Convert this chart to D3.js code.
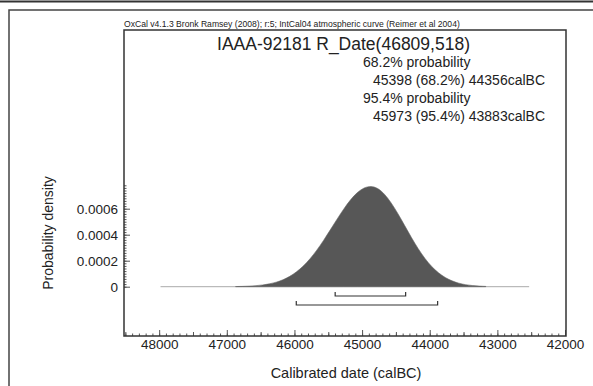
<!DOCTYPE html>
<html lang="en">
<head>
<meta charset="UTF-8">
<title>OxCal R_Date</title>
<script src="https://cdn.jsdelivr.net/npm/d3@7"></script>
<style>
  body { margin: 0; background: #fff; }
  text { font-family: Arial, "Liberation Sans", sans-serif; fill: #222; }
</style>
</head>
<body>
<svg width="593" height="386"></svg>
<script>
// data (calBC, probability density)
var years = [46870, 46770, 46670, 46570, 46470, 46370, 46270, 46170, 46070, 45970,
             45870, 45770, 45670, 45570, 45470, 45370, 45270, 45170, 45070, 44970,
             44870, 44770, 44670, 44570, 44470, 44370, 44270, 44170, 44070, 43970,
             43870, 43770, 43670, 43570, 43470, 43370, 43270, 43170];
var density = [0.0000012, 0.0000024, 0.0000044, 0.0000077, 0.000013, 0.000021, 0.000034, 0.000052, 0.000078, 0.000113,
               0.000157, 0.000213, 0.000280, 0.000355, 0.000437, 0.000520, 0.000600, 0.000671, 0.000727, 0.000763,
               0.000775, 0.000760, 0.000715, 0.000647, 0.000563, 0.000470, 0.000377, 0.000291, 0.000215, 0.000153,
               0.000105, 0.000069, 0.000044, 0.000026, 0.000015, 0.0000086, 0.0000045, 0.0000023];
var baseRange = [47980, 42530];
var range68 = [45398, 44356];
var range95 = [45973, 43883];
var xTicks = [48000, 47000, 46000, 45000, 44000, 43000, 42000];
var yTicks = [0, 0.0002, 0.0004, 0.0006];
var caption = "OxCal v4.1.3 Bronk Ramsey (2008); r:5; IntCal04 atmospheric curve (Reimer et al 2004)";
var title = "IAAA-92181 R_Date(46809,518)";
var lines = ["68.2% probability", "45398 (68.2%) 44356calBC", "95.4% probability", "45973 (95.4%) 43883calBC"];

var svg = d3.select("svg");
var m = {left: 124, right: 566, top: 30, bottom: 336};

// outer frame
svg.append("line").attr("x1", 0).attr("x2", 593).attr("y1", 1.5).attr("y2", 1.5).attr("stroke", "#333").attr("stroke-width", 2);
svg.append("path").attr("d", "M9,386V10H593").attr("fill", "none").attr("stroke", "#444").attr("stroke-width", 1.5);

var x = d3.scaleLinear().domain([48520, 42000]).range([m.left, 565]);
var y = d3.scaleLinear().domain([0, 0.0006]).range([286.7, 208.7]);

// baseline of the distribution
svg.append("line")
  .attr("x1", x(baseRange[0])).attr("x2", x(baseRange[1]))
  .attr("y1", y(0)).attr("y2", y(0))
  .attr("stroke", "#aaa").attr("stroke-width", 1);

// density curve
var pts = years.map(function (d, i) { return [d, density[i]]; });
var area = d3.area().curve(d3.curveBasis)
  .x(function (d) { return x(d[0]); })
  .y0(y(0))
  .y1(function (d) { return y(d[1]); });
svg.append("path").attr("d", area(pts)).attr("fill", "#575757").attr("stroke", "#666").attr("stroke-width", 0.6);

// range brackets
function bracket(r, yy) {
  var x0 = x(r[0]), x1 = x(r[1]);
  svg.append("path")
    .attr("d", "M" + x0 + "," + (yy - 4) + "V" + yy + "H" + x1 + "V" + (yy - 4))
    .attr("fill", "none").attr("stroke", "#333").attr("stroke-width", 1.2);
}
bracket(range68, 296);
bracket(range95, 305);

// x axis (ticks pointing inwards)
var gx = svg.append("g").attr("transform", "translate(0," + m.bottom + ")");
gx.call(d3.axisBottom(x).tickValues(d3.range(42000, 48501, 100)).tickSize(-2.5).tickFormat(""));
gx.select(".domain").remove();
var gx2 = svg.append("g").attr("transform", "translate(0," + m.bottom + ")");
gx2.call(d3.axisBottom(x).tickValues(d3.range(42500, 48501, 1000)).tickSize(-4).tickFormat(""));
gx2.select(".domain").remove();
var gx3 = svg.append("g").attr("transform", "translate(0," + m.bottom + ")");
gx3.call(d3.axisBottom(x).tickValues(xTicks).tickSize(-6).tickPadding(3).tickFormat(d3.format("d")));
gx3.select(".domain").remove();
gx3.selectAll("text").attr("font-size", 13.5).attr("fill", "#222");

// y axis
var gy = svg.append("g").attr("transform", "translate(" + m.left + ",0)");
gy.call(d3.axisLeft(y).tickValues(d3.range(0, 0.00079, 0.00002)).tickSize(-2.5).tickFormat(""));
gy.select(".domain").remove();
var gy2 = svg.append("g").attr("transform", "translate(" + m.left + ",0)");
gy2.call(d3.axisLeft(y).tickValues(yTicks).tickSize(-6).tickPadding(6).tickFormat(function (d) { return d === 0 ? "0" : d3.format(".4f")(d); }));
gy2.select(".domain").remove();
gy2.selectAll("text").attr("font-size", 13.5).attr("fill", "#222");
svg.selectAll(".tick line").attr("stroke", "#555");

// plot frame
svg.append("rect").attr("x", m.left).attr("y", m.top).attr("width", m.right - m.left).attr("height", m.bottom - m.top)
  .attr("fill", "none").attr("stroke", "#333").attr("stroke-width", 1.5);

// texts
svg.append("text").attr("x", m.left).attr("y", 27).attr("font-size", 8.6).text(caption);
svg.append("text").attr("x", 343.5).attr("y", 50).attr("text-anchor", "middle").attr("font-size", 17.5).text(title);
var lx = [363, 373, 363, 373], ly = [67, 85, 103, 121];
lines.forEach(function (t, i) {
  svg.append("text").attr("x", lx[i]).attr("y", ly[i]).attr("font-size", 14).text(t);
});
svg.append("text").attr("x", 346).attr("y", 378).attr("text-anchor", "middle").attr("font-size", 14.5).text("Calibrated date (calBC)");
svg.append("text").attr("transform", "translate(53,233) rotate(-90)").attr("text-anchor", "middle").attr("font-size", 14).text("Probability density");
</script>
</body>
</html>
